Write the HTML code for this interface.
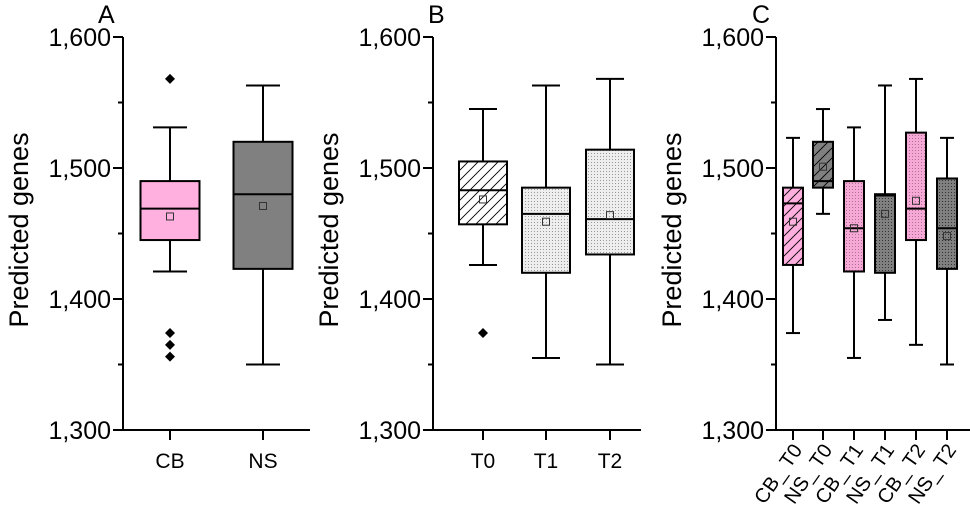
<!DOCTYPE html>
<html><head><meta charset="utf-8"><style>body{margin:0;background:#fff}svg{display:block}text{font-family:"Liberation Sans",Arial,sans-serif;fill:#000}</style></head><body>
<svg width="970" height="531" viewBox="0 0 970 531" xmlns="http://www.w3.org/2000/svg">
<defs>
<pattern id="hatch" patternUnits="userSpaceOnUse" width="10" height="10">
<path d="M-1,11 L11,-1 M-6,6 L6,-6 M4,16 L16,4" stroke="#000" stroke-width="0.9"/>
</pattern>
<pattern id="dots" patternUnits="userSpaceOnUse" width="3" height="3"><rect width="3" height="3" fill="#eee"/><rect width="1" height="1" fill="#999"/></pattern>
<pattern id="pgrid" patternUnits="userSpaceOnUse" width="3" height="3"><rect width="3" height="3" fill="#f6a8d6"/><rect width="1" height="1" fill="#b07090"/></pattern>
<pattern id="ggrid" patternUnits="userSpaceOnUse" width="3" height="3"><rect width="3" height="3" fill="#808080"/><rect width="1" height="1" fill="#333"/></pattern>
</defs>
</svg>
<script>
const svg=document.querySelector('svg');const NS='http://www.w3.org/2000/svg';
function el(t,a,txt){const e=document.createElementNS(NS,t);for(const k in a)e.setAttribute(k,a[k]);if(txt)e.textContent=txt;svg.appendChild(e);return e;}
const Y=v=>430-(v-1300)*393/300;
function axis(ax,xend,letter,lx,ticks){
 el('line',{x1:ax,y1:37,x2:ax,y2:431,stroke:'#000','stroke-width':2});
 el('line',{x1:ax-1,y1:430,x2:xend,y2:430,stroke:'#000','stroke-width':2});
 [1300,1400,1500,1600].forEach(v=>{el('line',{x1:ax-10,y1:Y(v),x2:ax,y2:Y(v),stroke:'#000','stroke-width':2});
  el('text',{x:ax-12,y:Y(v)+9,'text-anchor':'end','font-size':25},v.toString().replace(/(\d)(\d{3})/,'$1,$2'));});
 [1350,1450,1550].forEach(v=>el('line',{x1:ax-5,y1:Y(v),x2:ax,y2:Y(v),stroke:'#000','stroke-width':2}));
 ticks.forEach(x=>el('line',{x1:x,y1:430,x2:x,y2:440,stroke:'#000','stroke-width':2}));
 el('text',{x:ax-95,y:230,'text-anchor':'middle','font-size':27,transform:`rotate(-90 ${ax-95} 230)`},'Predicted genes');
 el('text',{x:lx,y:23,'font-size':25},letter);
}
function box(x,w,lo,q1,med,q3,hi,mean,fill,cap,outs){
 el('line',{x1:x,y1:Y(hi),x2:x,y2:Y(q3),stroke:'#000','stroke-width':2});
 el('line',{x1:x,y1:Y(q1),x2:x,y2:Y(lo),stroke:'#000','stroke-width':2});
 el('line',{x1:x-cap,y1:Y(hi),x2:x+cap,y2:Y(hi),stroke:'#000','stroke-width':2});
 el('line',{x1:x-cap,y1:Y(lo),x2:x+cap,y2:Y(lo),stroke:'#000','stroke-width':2});
 fill.forEach(f=>el('rect',{x:x-w/2,y:Y(q3),width:w,height:Y(q1)-Y(q3),fill:f,stroke:'none'}));
 el('rect',{x:x-w/2,y:Y(q3),width:w,height:Y(q1)-Y(q3),fill:'none',stroke:'#000','stroke-width':2});
 el('line',{x1:x-w/2,y1:Y(med),x2:x+w/2,y2:Y(med),stroke:'#000','stroke-width':2});
 el('rect',{x:x-3.5,y:Y(mean)-3.5,width:7,height:7,fill:'none',stroke:'#333','stroke-width':1});
 (outs||[]).forEach(o=>{const y=Y(o);el('polygon',{points:`${x},${y-5} ${x+5},${y} ${x},${y+5} ${x-5},${y}`,fill:'#000'});});
}
axis(123,310,'A',98,[170,263]);
box(170,59,1421,1445,1469,1490,1531,1463,['#ffb0de'],17,[1568,1374,1365,1356]);
box(263,59,1350,1423,1480,1520,1563,1471,['#808080'],17);
el('text',{x:170,y:468,'text-anchor':'middle','font-size':21},'CB');
el('text',{x:263,y:468,'text-anchor':'middle','font-size':21},'NS');
axis(433,641,'B',428,[483,546,610]);
box(483,48,1426,1457,1483,1505,1545,1476,['#fff','url(#hatch)'],14,[1374]);
box(546,48,1355,1420,1465,1485,1563,1459,['url(#dots)'],14);
box(610,48,1350,1434,1461,1514,1568,1464,['url(#dots)'],14);
['T0','T1','T2'].forEach((t,i)=>el('text',{x:[483,546,610][i],y:468,'text-anchor':'middle','font-size':21},t));
axis(776,970,'C',752,[793,823,854,885,916,947]);
box(793,20,1374,1426,1473,1485,1523,1459,['#ffb0de','url(#hatch)'],7);
box(823,20,1465,1485,1490,1520,1545,1501,['#808080','url(#hatch)'],7);
box(854,20,1355,1421,1454,1490,1531,1454,['url(#pgrid)'],7);
box(885,20,1384,1420,1479,1480,1563,1465,['url(#ggrid)'],7);
box(916,20,1365,1445,1469,1527,1568,1475,['url(#pgrid)'],7);
box(947,20,1350,1423,1454,1492,1523,1448,['url(#ggrid)'],7);
['CB_T0','NS_T0','CB_T1','NS_T1','CB_T2','NS_T2'].forEach((t,i)=>{const x=[793,823,854,885,916,947][i]+10,y=450;
 el('text',{x:x,y:y,'text-anchor':'end','font-size':20,transform:`rotate(-55 ${x} ${y})`},t.replace('_','_ '));});
</script>
</body></html>
